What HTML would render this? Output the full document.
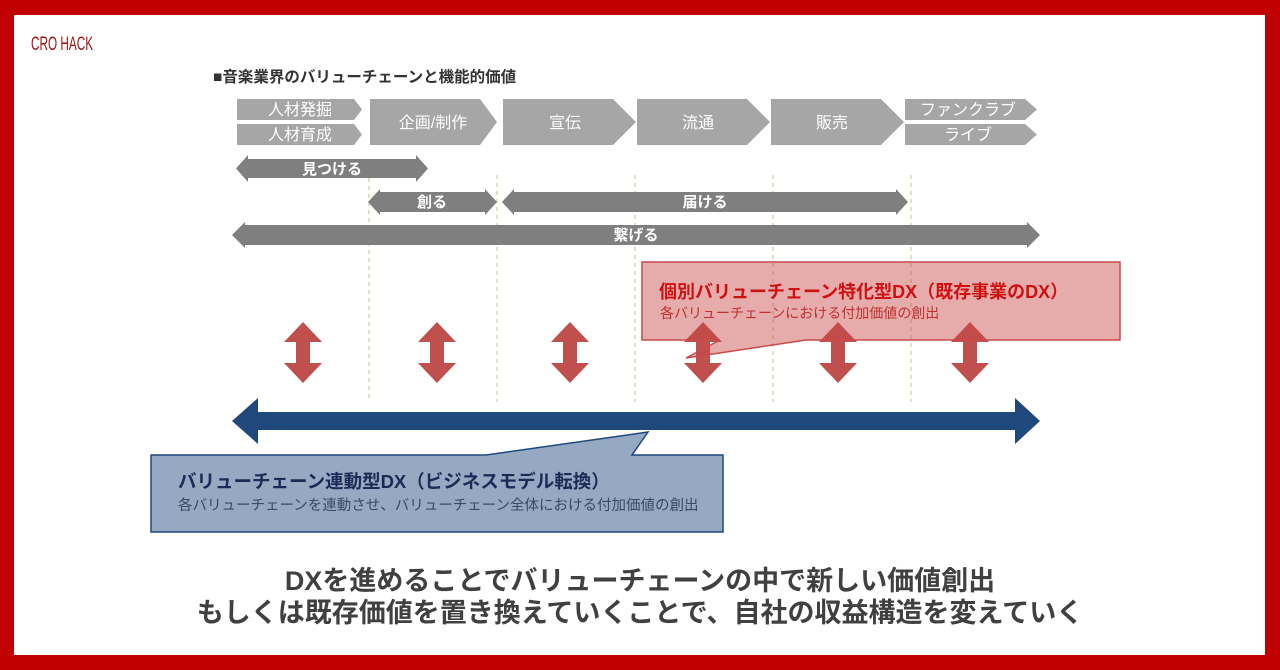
<!DOCTYPE html>
<html><head><meta charset="utf-8"><style>
body{margin:0;width:1280px;height:670px;overflow:hidden;background:#c00000}
svg{display:block}
text{font-family:"Liberation Sans","Noto Sans CJK JP",sans-serif}
</style></head><body>
<svg width="1280" height="670" viewBox="0 0 1280 670" xmlns="http://www.w3.org/2000/svg">
<rect x="0" y="0" width="1280" height="670" fill="#c00000"/>
<rect x="14" y="15" width="1251" height="640" fill="#fff"/>
<text x="0" y="0" font-size="19" fill="#9a1515" transform="translate(31,50) scale(0.62,1)">CRO HACK</text>
<text x="213" y="82" font-size="15.5" font-weight="bold" fill="#333">■音楽業界のバリューチェーンと機能的価値</text>
<g fill="#a6a6a6">
<polygon points="237,99 354,99 362,109.5 354,120 237,120"/>
<polygon points="237,124 354,124 362,134.5 354,145 237,145"/>
<polygon points="370,99 480,99 497,122 480,145 370,145"/>
<polygon points="503,99 613,99 636,122 613,145 503,145"/>
<polygon points="637,99 747,99 770,122 747,145 637,145"/>
<polygon points="771,99 881,99 904,122 881,145 771,145"/>
<polygon points="905,99 1025,99 1037,109.5 1025,120 905,120"/>
<polygon points="905,124 1025,124 1037,134.5 1025,145 905,145"/>
</g>
<g fill="#fff" font-size="16" text-anchor="middle">
<text x="300" y="115">人材発掘</text><text x="300" y="140">人材育成</text>
<text x="433" y="128">企画/制作</text><text x="565" y="128">宣伝</text>
<text x="698" y="128">流通</text><text x="832" y="128">販売</text>
<text x="968" y="115">ファンクラブ</text><text x="968" y="140">ライブ</text>
</g>
<g stroke="#b5c48a" stroke-width="1" stroke-dasharray="4,4">
<line x1="369" y1="178" x2="369" y2="402"/><line x1="497" y1="175" x2="497" y2="402"/>
<line x1="635" y1="175" x2="635" y2="402"/><line x1="773" y1="175" x2="773" y2="402"/>
<line x1="911" y1="175" x2="911" y2="402"/>
</g>
<g fill="#7f7f7f">
<polygon points="236,168.5 248,155 248,159 416,159 416,155 428,168.5 416,182 416,178 248,178 248,182"/>
<polygon points="368,202 380,189 380,192 485,192 485,189 497,202 485,215 485,212 380,212 380,215"/>
<polygon points="502,202 514,189 514,192 896,192 896,189 908,202 896,215 896,212 514,212 514,215"/>
<polygon points="232,235 245,222 245,225 1027,225 1027,222 1040,235 1027,248 1027,245 245,245 245,248"/>
</g>
<g fill="#fff" font-size="15" font-weight="bold" text-anchor="middle">
<text x="332" y="174">見つける</text><text x="432" y="207">創る</text>
<text x="705" y="207">届ける</text><text x="636" y="240">繋げる</text>
</g>
<g fill="#c0504d">
<g id="da"><polygon points="303,322 322,342 310,342 310,363 322,363 303,383 284,363 296,363 296,342 284,342"/></g>
<use href="#da" x="134"/><use href="#da" x="267"/><use href="#da" x="400"/><use href="#da" x="535"/><use href="#da" x="667"/>
</g>
<polygon points="642,262 1120,262 1120,340 806,340 686,358 720,340 642,340" fill="rgba(200,70,70,0.45)" stroke="#c84a4a" stroke-width="1.5"/>
<text x="659" y="298" font-size="18" font-weight="bold" fill="#d01010">個別バリューチェーン特化型DX（既存事業のDX）</text>
<text x="660" y="318" font-size="14" fill="#c03030">各バリューチェーンにおける付加価値の創出</text>
<polygon points="232,421 258,398 258,412 1015,412 1015,398 1040,421 1015,444 1015,430 258,430 258,444" fill="#1f497d"/>
<polygon points="151,455 486,455 648,432 632,455 723,455 723,532 151,532" fill="#95a9c3" stroke="#1f497d" stroke-width="1.5"/>
<text x="178" y="488" font-size="18.5" font-weight="bold" fill="#1c2a55">バリューチェーン連動型DX（ビジネスモデル転換）</text>
<text x="178" y="510" font-size="14.5" fill="#3a4a66">各バリューチェーンを連動させ、バリューチェーン全体における付加価値の創出</text>
<g font-size="27" font-weight="bold" fill="#404040" text-anchor="middle">
<text x="640" y="590">DXを進めることでバリューチェーンの中で新しい価値創出</text>
<text x="640" y="622">もしくは既存価値を置き換えていくことで、自社の収益構造を変えていく</text>
</g>
</svg>
</body></html>
